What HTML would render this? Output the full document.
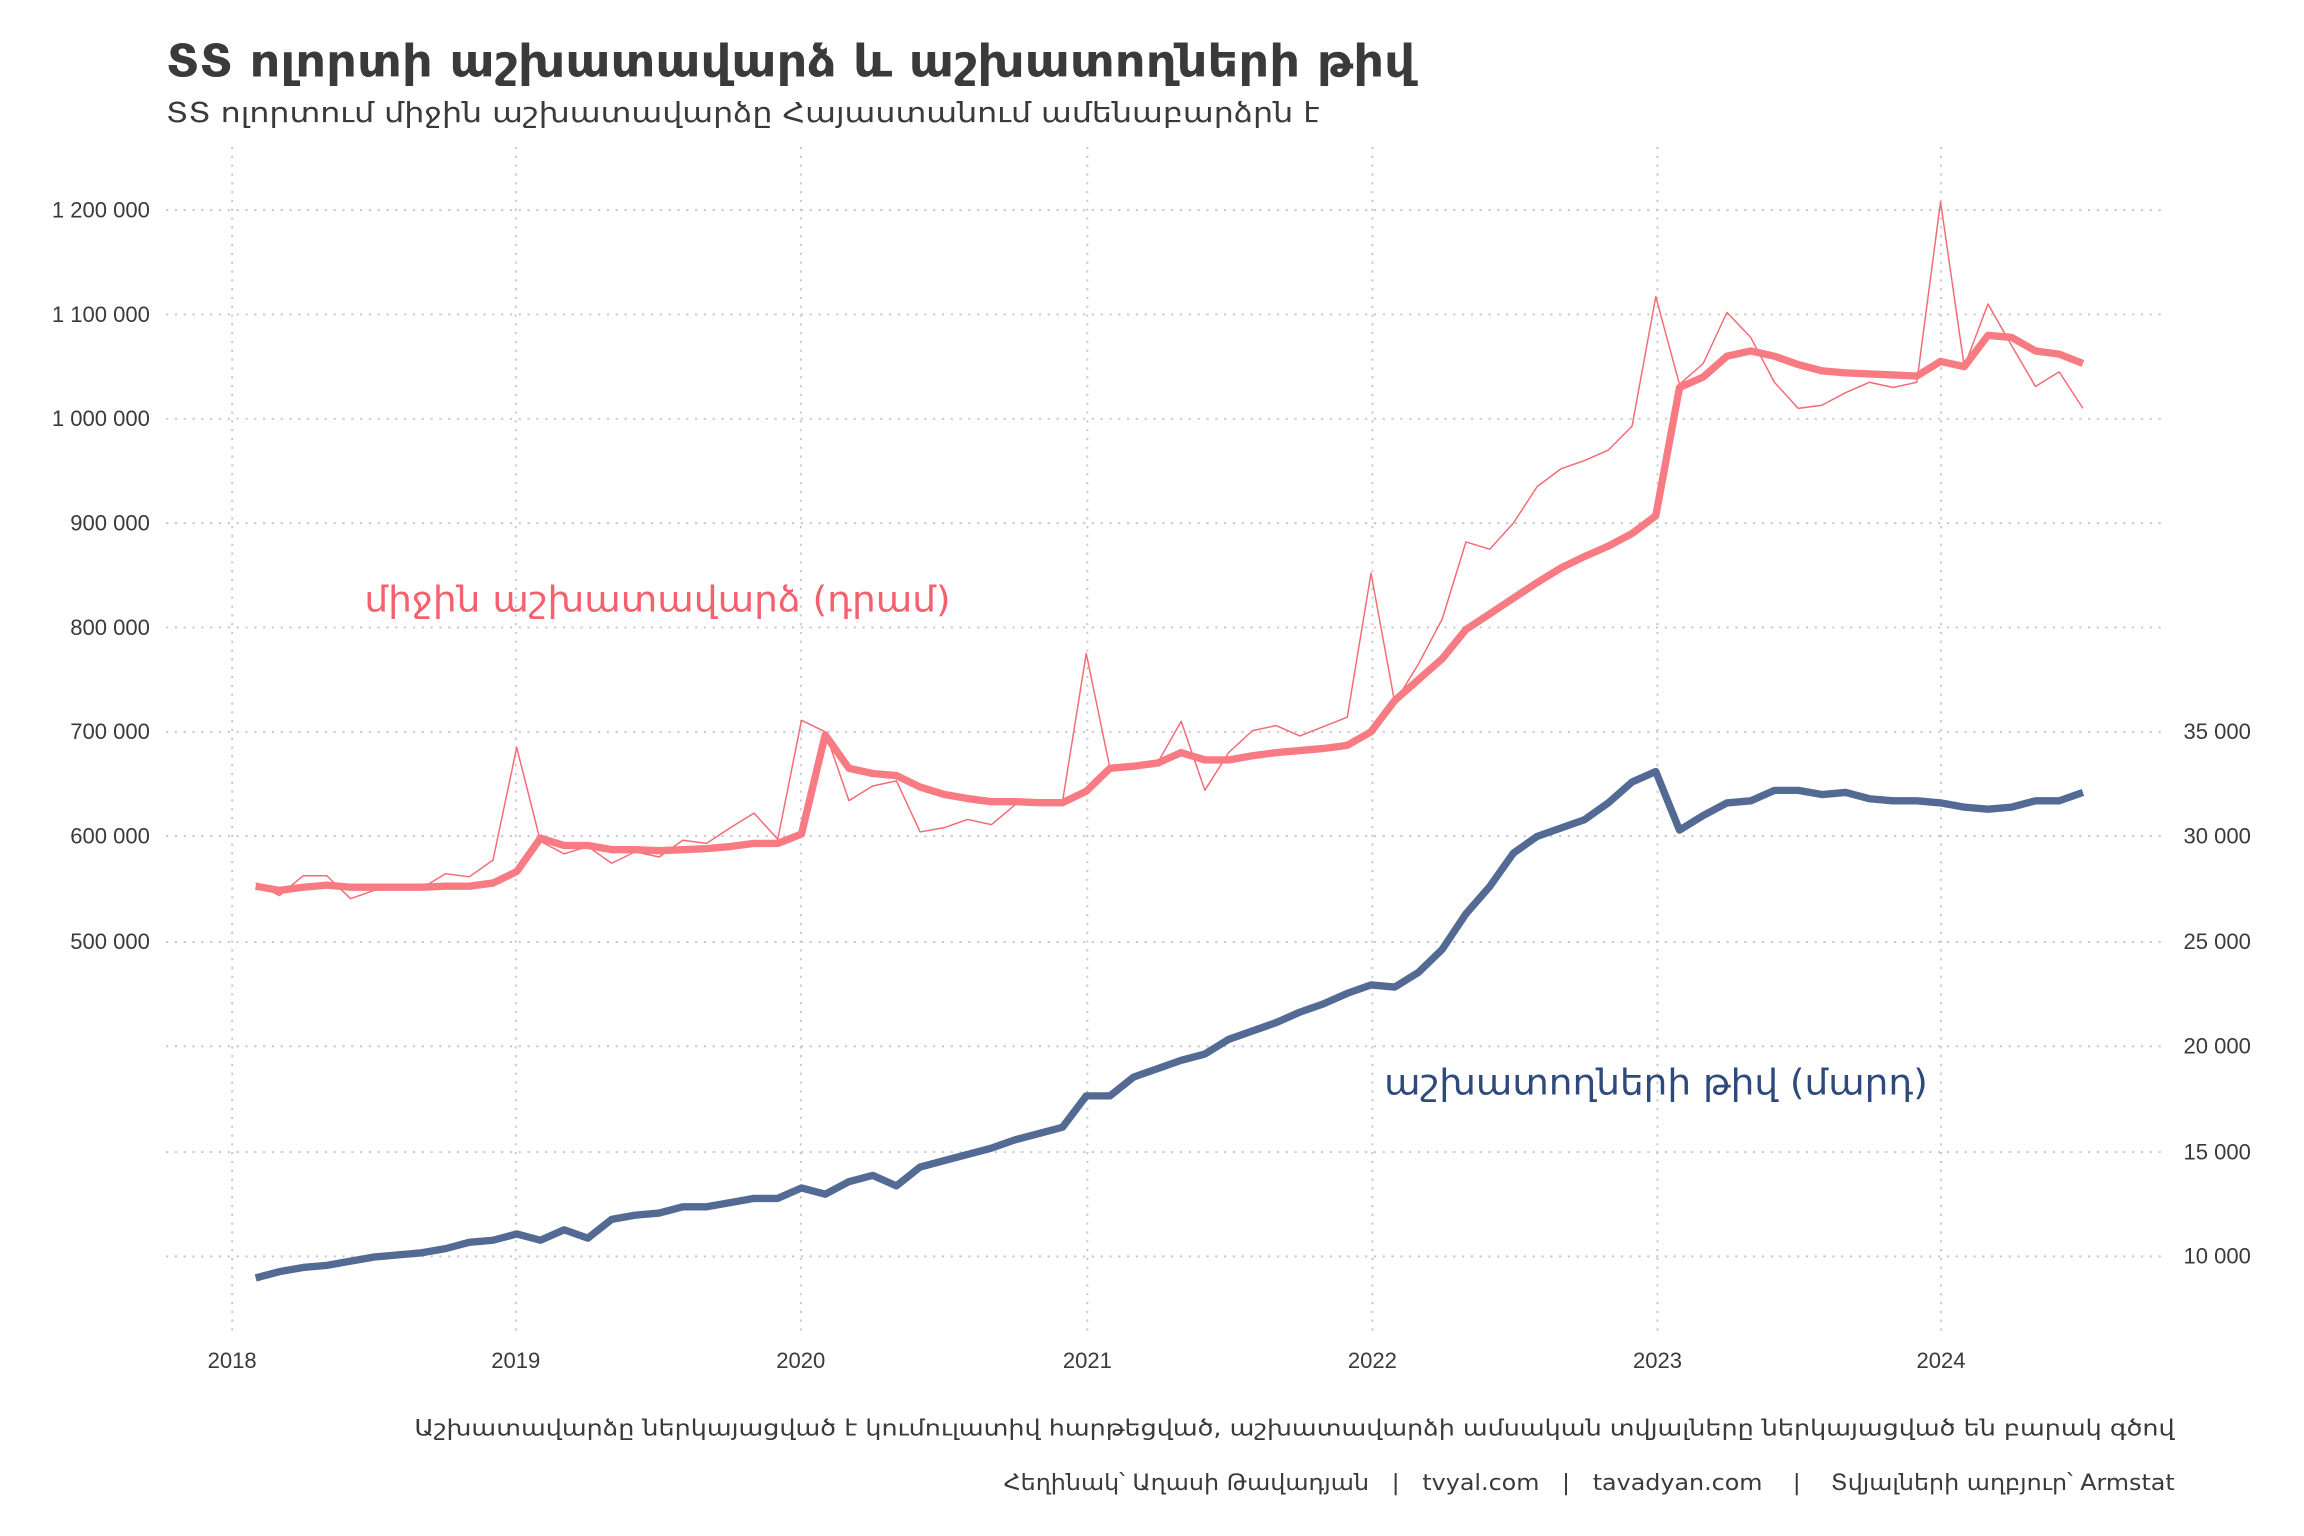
<!DOCTYPE html>
<html><head><meta charset="utf-8">
<style>
html,body{margin:0;padding:0;background:#fff;}
svg{display:block;}
text{font-family:"Liberation Sans","DejaVu Sans Condensed","DejaVu Sans",sans-serif;white-space:pre;}
</style></head>
<body>
<svg id="s" width="2304" height="1536" viewBox="0 0 1568 1045.3" preserveAspectRatio="none" xmlns="http://www.w3.org/2000/svg">
<g id="grid" stroke="#c8c8c8" stroke-width="1.3" stroke-dasharray="1.5,4.5"></g>
<text x="113" y="52" font-size="30" font-weight="bold" fill="#3a3a3a" textLength="850" lengthAdjust="spacingAndGlyphs" style="font-family:'DejaVu Sans Condensed','DejaVu Sans',sans-serif">ՏՏ ոլորտի աշխատավարձ և աշխատողների թիվ</text>
<text x="113" y="83" font-size="19" fill="#3a3a3a" textLength="785" lengthAdjust="spacingAndGlyphs" style="font-family:'DejaVu Sans Condensed','DejaVu Sans',sans-serif">ՏՏ ոլորտում միջին աշխատավարձը Հայաստանում ամենաբարձրն է</text>
<g id="ylab" font-size="15" fill="#3a3a3a"></g>
<polyline id="thin" fill="none" stroke="#f46a74" stroke-width="1" stroke-linejoin="round"/>
<polyline id="thick" fill="none" stroke="#f87a82" stroke-width="5" stroke-linejoin="round"/>
<polyline id="emp" fill="none" stroke="#536a94" stroke-width="5" stroke-linejoin="round"/>
<text x="248" y="416" font-size="24" fill="#f4606e" textLength="399" lengthAdjust="spacingAndGlyphs" style="font-family:'DejaVu Sans Condensed','DejaVu Sans',sans-serif">միջին աշխատավարձ (դրամ)</text>
<text x="942" y="745" font-size="24" fill="#2e4a7d" textLength="370" lengthAdjust="spacingAndGlyphs" style="font-family:'DejaVu Sans Condensed','DejaVu Sans',sans-serif">աշխատողների թիվ (մարդ)</text>
<text x="1480" y="977" font-size="15" fill="#3a3a3a" text-anchor="end" textLength="1198" lengthAdjust="spacingAndGlyphs" style="font-family:'DejaVu Sans Condensed','DejaVu Sans',sans-serif">Աշխատավարձը ներկայացված է կումուլատիվ հարթեցված, աշխատավարձի ամսական տվյալները ներկայացված են բարակ գծով</text>
<text x="1480" y="1014" font-size="15" fill="#3a3a3a" text-anchor="end" textLength="797" lengthAdjust="spacingAndGlyphs" style="font-family:'DejaVu Sans Condensed','DejaVu Sans',sans-serif">Հեղինակ՝ Աղասի Թավադյան &#160; | &#160; tvyal.com &#160; | &#160; tavadyan.com &#160; &#160;| &#160; &#160;Տվյալների աղբյուր՝ Armstat</text>
</svg>
<script>
const NS="http://www.w3.org/2000/svg";
const g=document.getElementById('grid'),yl=document.getElementById('ylab');
function el(p,t,a){const e=document.createElementNS(NS,t);for(const k in a)e.setAttribute(k,a[k]);p.appendChild(e);return e;}
const yrs=[2018,2019,2020,2021,2022,2023,2024],yx=[158,351,545,740,934,1128,1321];
yx.forEach((x,i)=>{el(g,'line',{x1:x,y1:100,x2:x,y2:910});const t=el(yl,'text',{x:x,y:931,'text-anchor':'middle'});t.textContent=yrs[i];});
const gy=[143,214,285,356,427,498,569,641,712,784,855];
gy.forEach(y=>el(g,'line',{x1:113,y1:y,x2:1475,y2:y}));
['1 200 000','1 100 000','1 000 000','900 000','800 000','700 000','600 000','500 000'].forEach((s,i)=>{const t=el(yl,'text',{x:102,y:gy[i]+5,'text-anchor':'end'});t.textContent=s;});
['35 000','30 000','25 000','20 000','15 000','10 000'].forEach((s,i)=>{const t=el(yl,'text',{x:1486,y:gy[i+5]+5});t.textContent=s;});
const thick=[552,548,551,553,551,551,551,551,552,552,555,566,598,591,591,587,587,586,587,588,590,593,593,602,697,665,660,658,647,640,636,633,633,632,632,643,665,667,670,680,673,673,677,680,682,684,687,700,730,750,770,798,813,828,843,857,868,878,890,907,1030,1040,1060,1065,1060,1052,1046,1044,1043,1042,1041,1055,1050,1080,1078,1065,1062,1053];
const thin=[555,543,562,562,540,548,551,550,564,561,577,685,595,583,590,574,585,580,596,593,608,622,597,711,700,634,648,653,604,608,616,611,630,633,633,775,665,668,670,710,644,680,701,706,696,705,714,852,728,765,808,882,875,900,935,952,960,970,993,1117,1033,1053,1102,1078,1035,1010,1013,1025,1035,1030,1035,1208,1050,1110,1070,1031,1045,1010];
const emp=[8.9,9.2,9.4,9.5,9.7,9.9,10.0,10.1,10.3,10.6,10.7,11.0,10.7,11.2,10.8,11.7,11.9,12.0,12.3,12.3,12.5,12.7,12.7,13.2,12.9,13.5,13.8,13.3,14.2,14.5,14.8,15.1,15.5,15.8,16.1,17.6,17.6,18.5,18.9,19.3,19.6,20.3,20.7,21.1,21.6,22.0,22.5,22.9,22.8,23.5,24.6,26.3,27.6,29.2,30.0,30.4,30.8,31.6,32.6,33.1,30.3,31.0,31.6,31.7,32.2,32.2,32.0,32.1,31.8,31.7,31.7,31.6,31.4,31.3,31.4,31.7,31.7,32.1];
const X=i=>174+i*16.15;
const wy=v=>143+(1200-v)*0.71, ey=v=>498+(35-v)*14.24;
document.getElementById('thick').setAttribute('points',thick.map((v,i)=>X(i)+','+wy(v)).join(' '));
document.getElementById('thin').setAttribute('points',thin.map((v,i)=>X(i)+','+wy(v)).join(' '));
document.getElementById('emp').setAttribute('points',emp.map((v,i)=>X(i)+','+ey(v)).join(' '));
</script>
</body></html>
